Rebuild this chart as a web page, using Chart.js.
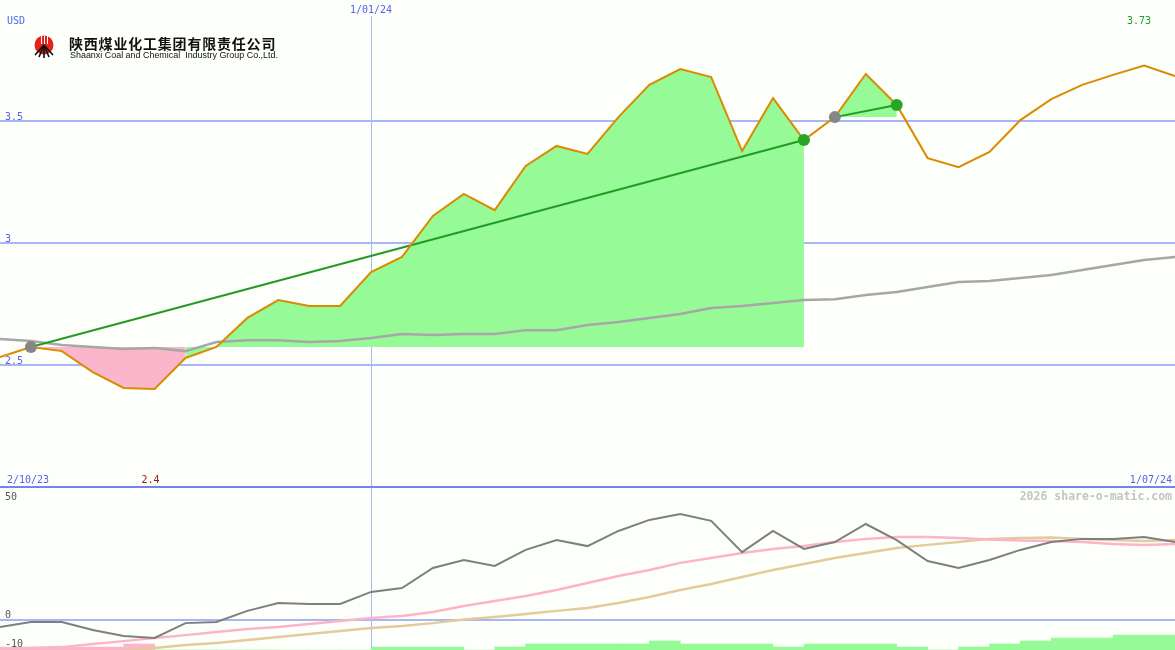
<!DOCTYPE html>
<html>
<head>
<meta charset="utf-8">
<script src="https://cdn.jsdelivr.net/npm/chart.js@4.4.1/dist/chart.umd.min.js"></script>
<style>
  html, body { margin: 0; padding: 0; background: #fcfffa; }
  #wrap { position: relative; width: 1175px; height: 650px; overflow: hidden; background: #fcfffa; }
  #top { position: absolute; left: 0; top: 0; width: 1175px; height: 488px; }
  #bottom { position: absolute; left: 0; top: 488px; width: 1175px; height: 162px; }
</style>
</head>
<body>
<div id="wrap">
  <div id="top"><canvas id="priceChart"></canvas></div>
  <div id="bottom"><canvas id="oscChart"></canvas></div>
</div>
<script>
// weekly closes
const weeks = ["9/10/23", "16/10/23", "23/10/23", "30/10/23", "6/11/23", "13/11/23", "20/11/23", "27/11/23",
  "4/12/23", "11/12/23", "18/12/23", "25/12/23", "1/01/24", "8/01/24", "15/01/24", "22/01/24", "29/01/24",
  "5/02/24", "12/02/24", "19/02/24", "26/02/24", "4/03/24", "11/03/24", "18/03/24", "25/03/24", "1/04/24",
  "8/04/24", "15/04/24", "22/04/24", "29/04/24", "6/05/24", "13/05/24", "20/05/24", "27/05/24", "3/06/24",
  "10/06/24", "17/06/24", "24/06/24", "1/07/24"];
const price = [2.533, 2.574, 2.557, 2.471, 2.406, 2.402, 2.529, 2.574, 2.693, 2.766,
  2.742, 2.742, 2.881, 2.943, 3.111, 3.201, 3.135, 3.316, 3.398, 3.365,
  3.516, 3.648, 3.713, 3.680, 3.377, 3.594, 3.422, 3.516, 3.693, 3.566,
  3.348, 3.311, 3.373, 3.504, 3.590, 3.648, 3.689, 3.727, 3.684];
const avg = [2.607, 2.598, 2.582, 2.574, 2.566, 2.570, 2.557, 2.594, 2.602, 2.602,
  2.594, 2.598, 2.611, 2.627, 2.623, 2.627, 2.627, 2.643, 2.643, 2.664,
  2.676, 2.693, 2.709, 2.734, 2.742, 2.754, 2.766, 2.770, 2.787, 2.799,
  2.820, 2.840, 2.844, 2.857, 2.869, 2.889, 2.910, 2.930, 2.943];

// trades: entry week, exit week, week where the losing stretch ends
const buyAt = [1, 27];
const sellAt = [26, 29];
const lossUntil = [6, 27];

const priceTicks = [2.5, 3, 3.5];
const priceHigh = "3.73", priceLow = "2.4";
const startLabel = "2/10/23", markLabel = "1/01/24", endLabel = "1/07/24";

// lower panel
const osc = [-2.9, -0.8, -0.8, -4.2, -6.7, -7.5, -1.3, -0.8, 3.8, 7.1,
  6.7, 6.7, 11.7, 13.3, 21.7, 25.0, 22.5, 29.2, 33.3, 30.8,
  37.1, 41.7, 44.2, 41.3, 28.3, 37.1, 29.6, 32.5, 40.0, 33.3,
  24.6, 21.7, 25.0, 29.2, 32.5, 33.8, 33.8, 34.6, 32.5];
const oscFast = [-12.1, -11.7, -11.3, -10.0, -8.8, -7.5, -6.3, -5.0, -3.8, -2.9,
  -1.7, -0.4, 0.8, 1.7, 3.3, 5.8, 7.9, 10.0, 12.5, 15.4,
  18.3, 20.8, 23.8, 25.8, 27.9, 29.6, 30.8, 32.5, 33.8, 34.6,
  34.6, 34.2, 33.5, 33.1, 32.9, 32.5, 31.7, 31.3, 31.7];
const oscSlow = [-17.0, -16.0, -15.0, -14.0, -12.8, -11.7, -10.4, -9.6, -8.3, -7.1,
  -5.8, -4.6, -3.3, -2.5, -1.3, 0.2, 1.3, 2.5, 3.8, 5.0,
  7.1, 9.6, 12.5, 15.0, 17.9, 20.8, 23.3, 25.8, 27.9, 30.0,
  31.3, 32.5, 33.8, 34.2, 34.4, 33.8, 33.3, 32.9, 33.3];
// one bar per week interval, negative = pink
const hist = [-1, -1, -1, -1, -2, 0, 0, 0, 0, 0, 0, 0, 1, 1, 1, 0, 1, 2, 2, 2,
  2, 3, 2, 2, 2, 1, 2, 2, 2, 1, 0, 1, 2, 3, 4, 4, 5, 5];
const oscTicks = [50, 0, -10];

const mono = "'DejaVu Sans Mono', monospace";
const blue = '#5563ee';
const gridBlue = '#a9b5f7';
const markIdx = weeks.indexOf(markLabel);

function markLine(chart, fromY) {
  const ctx = chart.ctx;
  const x = Math.round(chart.scales.x.getPixelForValue(markIdx)) + 0.5;
  ctx.save();
  ctx.strokeStyle = gridBlue;
  ctx.lineWidth = 1;
  ctx.beginPath();
  ctx.moveTo(x, fromY);
  ctx.lineTo(x, chart.height);
  ctx.stroke();
  ctx.restore();
}

function text(ctx, str, x, y, color, align, font) {
  ctx.fillStyle = color;
  ctx.textAlign = align || 'left';
  ctx.textBaseline = 'alphabetic';
  ctx.font = font || ('10px ' + mono);
  ctx.fillText(str, x, y);
}

function drawLogo(ctx) {
  ctx.save();
  ctx.fillStyle = '#e3241b';
  ctx.beginPath();
  ctx.arc(44, 45, 9.5, 0, Math.PI * 2);
  ctx.fill();
  ctx.strokeStyle = '#fff';
  ctx.lineWidth = 1;
  [41, 44, 47].forEach(x => { ctx.beginPath(); ctx.moveTo(x + 0.5, 36); ctx.lineTo(x + 0.5, 44); ctx.stroke(); });
  ctx.strokeStyle = '#111';
  ctx.lineWidth = 1.6;
  [[35, 55], [39, 57], [44, 58], [49, 57], [53, 55]].forEach(p => {
    ctx.beginPath(); ctx.moveTo(44, 45); ctx.lineTo(p[0], p[1]); ctx.stroke();
  });
  ctx.fillStyle = '#111';
  ctx.textAlign = 'left';
  ctx.textBaseline = 'alphabetic';
  ctx.font = "bold 14px 'Noto Sans CJK SC', sans-serif";
  ctx.letterSpacing = '0.8px';
  ctx.fillText('陕西煤业化工集团有限责任公司', 69, 49, 209);
  ctx.letterSpacing = '0px';
  ctx.font = "9px 'Liberation Sans', Arial, sans-serif";
  ctx.fillText('Shaanxi Coal and Chemical  Industry Group Co.,Ltd.', 70, 58, 208);
  ctx.restore();
}

// price panel datasets
const priceSets = [];
priceSets.push({ data: price, borderColor: '#dc8a00', borderWidth: 2, order: 1 });
priceSets.push({
  data: price.map((v, i) => (buyAt.includes(i) || sellAt.includes(i)) ? v : null),
  showLine: false, pointRadius: 6, pointHoverRadius: 6, pointBorderWidth: 0,
  pointBackgroundColor: price.map((v, i) => sellAt.includes(i) ? '#26a626' : '#868686'),
  order: 0
});
buyAt.forEach((b, k) => {
  const s = sellAt[k], cut = lossUntil[k];
  priceSets.push({
    data: price.map((v, i) => (i === b || i === s) ? v : null),
    spanGaps: true, borderColor: '#239b23', borderWidth: 2, order: 2
  });
  if (cut > b) {
    priceSets.push({
      data: price.map((v, i) => (i >= b && i <= cut) ? v : null),
      fill: { value: price[b] }, backgroundColor: '#fbb6cb',
      borderColor: 'rgba(0,0,0,0)', borderWidth: 0, order: 4
    });
  }
  priceSets.push({
    data: price.map((v, i) => (i >= cut && i <= s) ? v : null),
    fill: { value: price[b] }, backgroundColor: '#96fa96',
    borderColor: 'rgba(0,0,0,0)', borderWidth: 0, order: 4
  });
});
priceSets.push({ data: avg, borderColor: '#a7a7a7', borderWidth: 2.5, order: 3 });

const common = {
  responsive: true,
  maintainAspectRatio: false,
  animation: false,
  events: [],
  layout: { padding: 0, autoPadding: false },
  elements: { point: { radius: 0 }, line: { tension: 0 } },
  plugins: { legend: { display: false }, tooltip: { enabled: false } }
};

new Chart(document.getElementById('priceChart'), {
  type: 'line',
  data: { labels: weeks, datasets: priceSets },
  options: {
    ...common,
    scales: {
      x: { display: false },
      y: {
        min: 1.996, max: 3.996,
        border: { display: false },
        ticks: { display: false },
        grid: { color: gridBlue, lineWidth: 2, drawTicks: false },
        afterBuildTicks: s => { s.ticks = priceTicks.map(v => ({ value: v })); }
      }
    }
  },
  plugins: [{
    id: 'priceDeco',
    beforeDatasetsDraw(chart) { markLine(chart, 16); },
    afterDraw(chart) {
      const ctx = chart.ctx, x = chart.scales.x, y = chart.scales.y, w = chart.width;
      ctx.save();
      priceTicks.forEach(v => text(ctx, String(v), 5, Math.round(y.getPixelForValue(v)) - 1, blue));
      text(ctx, 'USD', 7, 24, blue);
      text(ctx, markLabel, x.getPixelForValue(markIdx), 13, blue, 'center');
      const hi = price.indexOf(Math.max(...price)), lo = price.indexOf(Math.min(...price));
      text(ctx, priceHigh, x.getPixelForValue(hi) - 5, 24, '#279a27', 'center');
      text(ctx, priceLow, x.getPixelForValue(lo) - 4, 483, '#a01818', 'center');
      text(ctx, startLabel, 7, 483, blue);
      text(ctx, endLabel, w - 3, 483, blue, 'right');
      ctx.fillStyle = '#7584ec';
      ctx.fillRect(0, chart.height - 2, w, 2);
      drawLogo(ctx);
      ctx.restore();
    }
  }]
});

new Chart(document.getElementById('oscChart'), {
  type: 'line',
  data: {
    labels: weeks,
    datasets: [
      { data: osc, borderColor: '#7f7f7f', borderWidth: 2, order: 0 },
      { data: oscFast, borderColor: '#fdb4c9', borderWidth: 2.5, order: 1 },
      { data: oscSlow, borderColor: '#e3cb9c', borderWidth: 2.5, order: 2 },
      {
        type: 'bar', data: hist.map(Math.abs),
        backgroundColor: hist.map(v => v < 0 ? '#fbb6cb' : '#96fa96'),
        xAxisID: 'xb', yAxisID: 'yh', grouped: false,
        barPercentage: 1, categoryPercentage: 1, order: 5
      }
    ]
  },
  options: {
    ...common,
    scales: {
      x: { display: false },
      xb: { type: 'category', labels: weeks.slice(0, -1), offset: true, display: false },
      y: {
        min: -12.5, max: 55,
        border: { display: false },
        ticks: { display: false },
        grid: { color: gridBlue, lineWidth: 2, drawTicks: false },
        afterBuildTicks: s => { s.ticks = [{ value: 0 }]; }
      },
      yh: { min: 0, max: 54, display: false }
    }
  },
  plugins: [{
    id: 'oscDeco',
    beforeDatasetsDraw(chart) { markLine(chart, 0); },
    afterDraw(chart) {
      const ctx = chart.ctx, y = chart.scales.y;
      ctx.save();
      oscTicks.forEach(v => {
        const py = Math.round(y.getPixelForValue(v));
        text(ctx, String(v), 5, v < 0 ? py + 3 : (v > 0 ? py : py - 2), '#555');
      });
      text(ctx, '2026 share-o-matic.com', chart.width - 3, 12, '#c4c4c4', 'right', 'bold 11.5px ' + mono);
      ctx.restore();
    }
  }]
});
</script>
</body>
</html>
